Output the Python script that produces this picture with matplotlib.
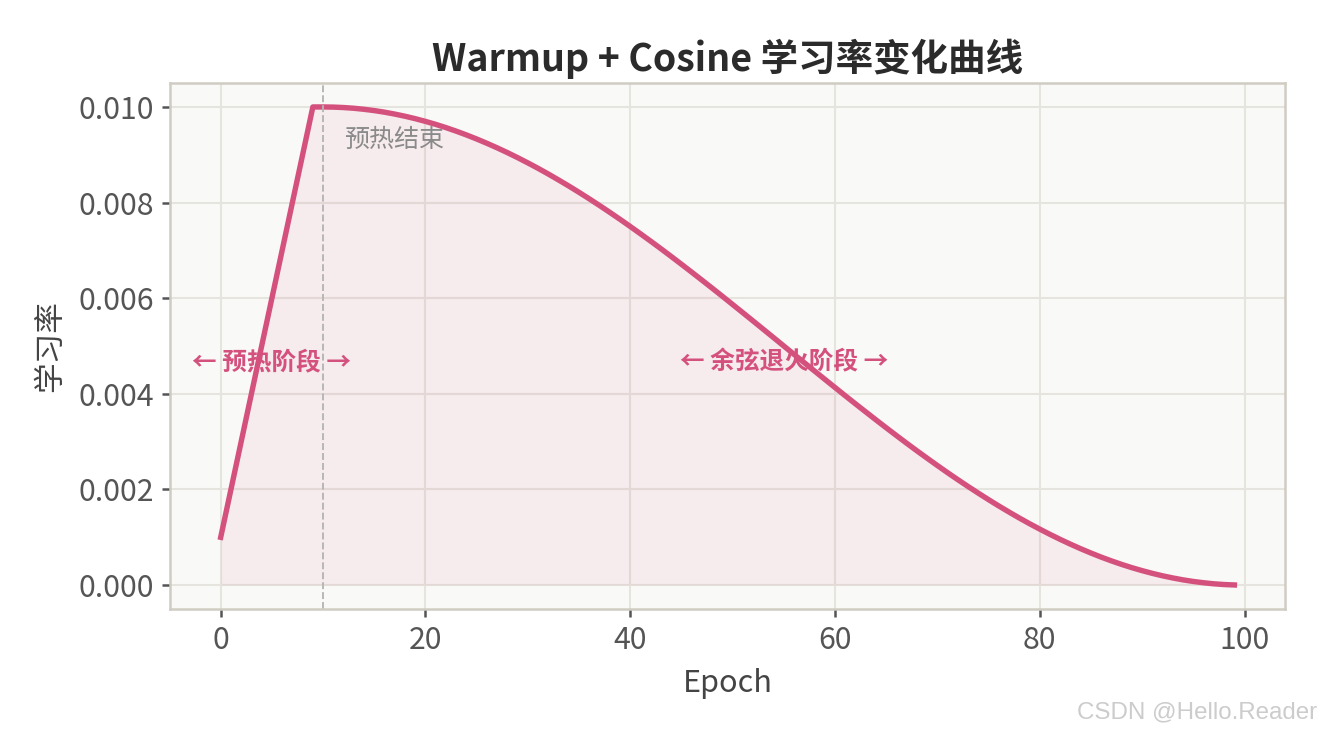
import matplotlib
matplotlib.use('Agg')
import matplotlib.pyplot as plt
import numpy as np

# datos: lr por epoch
epochs = list(range(100))
warmup_lr = [0.001, 0.002, 0.003, 0.004, 0.005, 0.006, 0.007, 0.008, 0.009, 0.010]
cosine_lr = [
    0.010000, 0.009997, 0.009988, 0.009973, 0.009951, 0.009924, 0.009891, 0.009851, 0.009806, 0.009755,
    0.009698, 0.009636, 0.009568, 0.009494, 0.009415, 0.009330, 0.009240, 0.009145, 0.009045, 0.008940,
    0.008830, 0.008716, 0.008597, 0.008473, 0.008346, 0.008214, 0.008078, 0.007939, 0.007796, 0.007650,
    0.007500, 0.007347, 0.007192, 0.007034, 0.006873, 0.006710, 0.006545, 0.006378, 0.006210, 0.006040,
    0.005868, 0.005696, 0.005523, 0.005349, 0.005175, 0.005000, 0.004825, 0.004651, 0.004477, 0.004304,
    0.004132, 0.003960, 0.003790, 0.003622, 0.003455, 0.003290, 0.003127, 0.002966, 0.002808, 0.002653,
    0.002500, 0.002350, 0.002204, 0.002061, 0.001922, 0.001786, 0.001654, 0.001527, 0.001403, 0.001284,
    0.001170, 0.001060, 0.000955, 0.000855, 0.000760, 0.000670, 0.000585, 0.000506, 0.000432, 0.000364,
    0.000302, 0.000245, 0.000194, 0.000149, 0.000109, 0.000076, 0.000049, 0.000027, 0.000012, 0.000003,
]
lr = warmup_lr + cosine_lr
warmup_end = 10

plt.rcParams['font.family'] = ['Noto Sans CJK SC', 'DejaVu Sans']
plt.rcParams['axes.unicode_minus'] = False

line_color = '#d4517e'
fig = plt.figure(figsize=(1321 / 150, 735 / 150), dpi=150)
ax = fig.add_axes([0.1287, 0.1714, 0.8441, 0.7156])
ax.set_facecolor('#f9f9f7')

ax.fill_between(epochs, lr, 0, color=line_color, alpha=0.08, linewidth=0)
ax.plot(epochs, lr, color=line_color, linewidth=2.6)
ax.axvline(warmup_end, color='#b5b5b5', linestyle='--', linewidth=0.9)

ax.text(12, 0.0093, '预热结束', color='#8a8a8a', fontsize=12, va='center')
ax.text(5, 0.00465, '← 预热阶段 →', color=line_color, fontsize=11.8,
        fontweight='bold', ha='center', va='center')
ax.text(55, 0.00465, '← 余弦退火阶段 →', color=line_color, fontsize=11.8,
        fontweight='bold', ha='center', va='center')

ax.set_title('Warmup + Cosine 学习率变化曲线', fontsize=18, fontweight='bold',
             color='#2b2b2b', pad=6)
ax.set_xlabel('Epoch', fontsize=14.7, color='#444444', labelpad=6)
ax.set_ylabel('学习率', fontsize=14.7, color='#444444', labelpad=6)
ax.set_xticks([0, 20, 40, 60, 80, 100])
ax.set_yticks([0.000, 0.002, 0.004, 0.006, 0.008, 0.010])
ax.yaxis.set_major_formatter(matplotlib.ticker.FormatStrFormatter('%.3f'))
ax.tick_params(labelsize=14.5, colors='#555555', length=4, width=1.2)
ax.grid(True, color='#e6e4de', linewidth=1)
ax.set_axisbelow(True)
for s in ax.spines.values():
    s.set_color('#cfccc2')
    s.set_linewidth(1.2)

fig.text(0.997, 0.031, 'CSDN @Hello.Reader', fontsize=11.6, color='#cccccc',
         family='Liberation Sans', ha='right', va='center')

fig.savefig('out.png', dpi=150)
